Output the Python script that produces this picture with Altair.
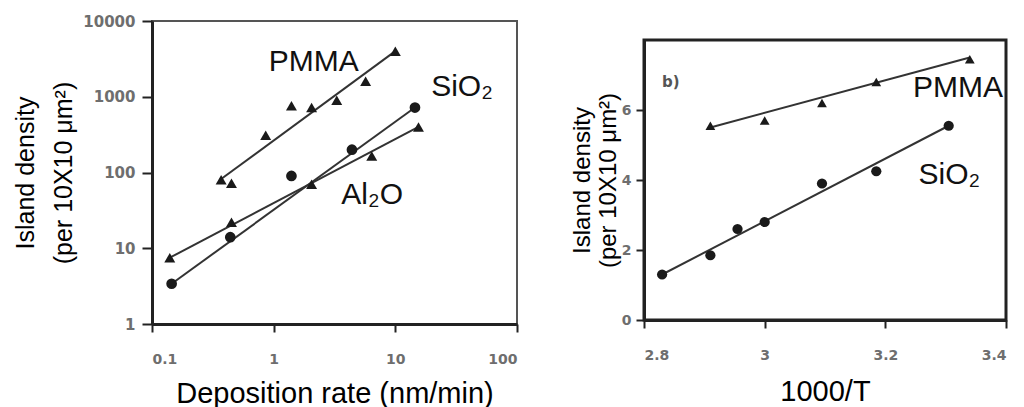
import altair as alt
import pandas as pd

# ---------------- Left panel: island density vs deposition rate ----------------
pmma_rate = [0.37, 0.45, 0.86, 1.4, 2.05, 3.3, 5.7, 10.0]
pmma_density = [80, 72, 310, 760, 720, 900, 1600, 4000]

sio2_rate = [0.145, 0.44, 1.4, 4.4, 14.5]
sio2_density = [3.4, 14, 90, 200, 720]

al2o_rate = [0.14, 0.45, 2.05, 6.4, 15.5]
al2o_density = [7.5, 22, 70, 165, 400]

# fitted straight lines (end points)
pmma_fit_rate = [0.37, 10.0]
pmma_fit_density = [82, 4000]
sio2_fit_rate = [0.145, 14.5]
sio2_fit_density = [3.4, 720]
al2o_fit_rate = [0.14, 15.5]
al2o_fit_density = [7.5, 400]

left_label_text = ["PMMA", "SiO₂", "Al₂O"]
left_label_x = [0.91, 19.7, 3.6]
left_label_y = [2200, 1030, 38]

left_x_ticks = [0.1, 1, 10, 100]
left_y_ticks = [1, 10, 100, 1000, 10000]

# ---------------- Right panel: island density vs 1000/T ----------------
pmma_invT = [2.91, 3.0, 3.095, 3.185, 3.34]
pmma_r = [5.55, 5.7, 6.2, 6.8, 7.45]

sio2_invT = [2.83, 2.91, 2.955, 3.0, 3.095, 3.185, 3.305]
sio2_r = [1.3, 1.85, 2.6, 2.8, 3.9, 4.25, 5.55]

pmma_fit_invT = [2.91, 3.34]
pmma_fit_r = [5.5, 7.5]
sio2_fit_invT = [2.83, 3.305]
sio2_fit_r = [1.3, 5.55]

right_label_text = ["PMMA", "SiO₂"]
right_label_x = [3.246, 3.255]
right_label_y = [6.37, 3.89]
panel_tag = ["b)"]
panel_tag_x = [2.83]
panel_tag_y = [6.66]

right_x_ticks = [2.8, 3.0, 3.2, 3.4]
right_y_ticks = [0, 2, 4, 6]


def frame(xs, ys, series):
    return pd.DataFrame({"x": xs, "y": ys, "series": series})


TITLE_FONT = "Liberation Sans"
LABEL_FONT = "DejaVu Sans"
INK = "#1a1a1a"


def axis(values, fmt, title, title_size, title_pad, label_pad, tick_size=8,
         label_size=14, line_height=None):
    kw = dict(
        values=values, format=fmt, title=title, grid=False,
        titleFont=TITLE_FONT, titleFontSize=title_size, titleFontWeight="normal",
        titleColor="#000", titlePadding=title_pad,
        labelFont=LABEL_FONT, labelFontSize=label_size, labelFontWeight="bold",
        labelColor="#6e6e6e", labelPadding=label_pad,
        domainColor="#222", domainWidth=3, tickColor="#222", tickWidth=2, tickSize=tick_size,
    )
    if line_height is not None:
        kw["titleLineHeight"] = line_height
    return alt.Axis(**kw)


# ---- left panel
lx = alt.X("x:Q", scale=alt.Scale(type="log", domain=[0.1, 100], nice=False),
           axis=axis(left_x_ticks, "~g", "Deposition rate (nm/min)", 29, 13, 20))
ly = alt.Y("y:Q", scale=alt.Scale(type="log", domain=[1, 10000], nice=False),
           axis=axis(left_y_ticks, "d", ["Island density", "(per 10X10 μm²)"], 25, 6, 7,
                     tick_size=10, label_size=15, line_height=38))

left_fits = pd.concat([
    frame(pmma_fit_rate, pmma_fit_density, "PMMA"),
    frame(sio2_fit_rate, sio2_fit_density, "SiO2"),
    frame(al2o_fit_rate, al2o_fit_density, "Al2O"),
])
left_tri = pd.concat([
    frame(pmma_rate, pmma_density, "PMMA"),
    frame(al2o_rate, al2o_density, "Al2O"),
])
left_circ = frame(sio2_rate, sio2_density, "SiO2")
left_labels = pd.DataFrame({"x": left_label_x, "y": left_label_y, "text": left_label_text})

l_lines = alt.Chart(left_fits).mark_line(color="#333", strokeWidth=2).encode(lx, ly, detail="series:N")
l_tri = alt.Chart(left_tri).mark_point(shape="triangle-up", filled=True, color=INK, size=120, opacity=1).encode(lx, ly)
l_circ = alt.Chart(left_circ).mark_point(shape="circle", filled=True, color=INK, size=115, opacity=1).encode(lx, ly)
l_text = alt.Chart(left_labels).mark_text(align="left", baseline="alphabetic", font=TITLE_FONT,
                                          fontSize=30, color="#111").encode(lx, ly, text="text:N")

left = alt.layer(l_lines, l_tri, l_circ, l_text).properties(
    width=365, height=303,
    view=alt.ViewBackground(stroke="#555", strokeWidth=2),
)

# ---- right panel
rx = alt.X("x:Q", scale=alt.Scale(domain=[2.8, 3.4], nice=False),
           axis=axis(right_x_ticks, "~g", "1000/T", 29, 15, 20))
ry = alt.Y("y:Q", scale=alt.Scale(domain=[0, 8], nice=False),
           axis=axis(right_y_ticks, "d", ["Island density", "(per 10X10 μm²)"], 24, 1, 5, line_height=26))

right_fits = pd.concat([
    frame(pmma_fit_invT, pmma_fit_r, "PMMA"),
    frame(sio2_fit_invT, sio2_fit_r, "SiO2"),
])
right_tri = frame(pmma_invT, pmma_r, "PMMA")
right_circ = frame(sio2_invT, sio2_r, "SiO2")
right_labels = pd.DataFrame({"x": right_label_x, "y": right_label_y, "text": right_label_text})
tag = pd.DataFrame({"x": panel_tag_x, "y": panel_tag_y, "text": panel_tag})

r_lines = alt.Chart(right_fits).mark_line(color="#333", strokeWidth=2).encode(rx, ry, detail="series:N")
r_tri = alt.Chart(right_tri).mark_point(shape="triangle-up", filled=True, color=INK, size=95, opacity=1).encode(rx, ry)
r_circ = alt.Chart(right_circ).mark_point(shape="circle", filled=True, color=INK, size=105, opacity=1).encode(rx, ry)
r_text = alt.Chart(right_labels).mark_text(align="left", baseline="alphabetic", font=TITLE_FONT,
                                           fontSize=30, color="#111").encode(rx, ry, text="text:N")
r_tag = alt.Chart(tag).mark_text(align="left", baseline="alphabetic", font=LABEL_FONT, fontWeight="bold",
                                 fontSize=15, color="#555").encode(rx, ry, text="text:N")

right = alt.layer(r_lines, r_tri, r_circ, r_text, r_tag).properties(
    width=362, height=280,
    view=alt.ViewBackground(stroke="#222", strokeWidth=3),
)

# an empty strip above the right panel so that it sits lower than the left one
spacer = alt.Chart(pd.DataFrame({"v": [0]})).mark_point(opacity=0).encode(
    x=alt.value(0), y=alt.value(0)
).properties(width=362, height=1, view=alt.ViewBackground(strokeWidth=0))

right_block = alt.vconcat(spacer, right, spacing=14)

chart = alt.hconcat(left, right_block, spacing=49).properties(
    padding={"left": 4, "top": 5, "right": 5, "bottom": 0}
).configure(background="white")

chart.save("out.html", embed_options={"renderer": "svg", "actions": False})
